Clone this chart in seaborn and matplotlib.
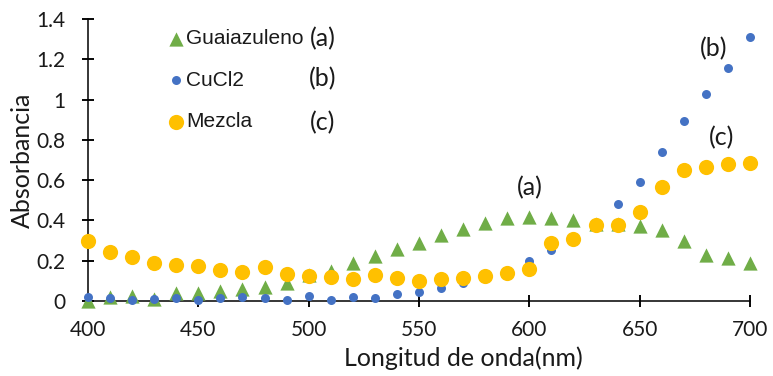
import matplotlib
matplotlib.use("Agg")
import matplotlib.pyplot as plt
import seaborn as sns
import pandas as pd

# Wavelengths (nm) and absorbance readings for each sample
wavelength = list(range(400, 701, 10))

guaiazuleno = [0.00, 0.02, 0.025, 0.01, 0.04, 0.04, 0.05, 0.058, 0.068, 0.09,
               0.13, 0.15, 0.187, 0.224, 0.257, 0.29, 0.33, 0.356, 0.386, 0.414,
               0.419, 0.41, 0.40, 0.38, 0.38, 0.373, 0.353, 0.30, 0.229, 0.212, 0.187]

cucl2 = [0.021, 0.013, 0.005, 0.008, 0.017, 0.005, 0.013, 0.018, 0.013, 0.005,
         0.025, 0.005, 0.018, 0.013, 0.033, 0.046, 0.063, 0.088, 0.12, 0.14,
         0.199, 0.253, 0.31, 0.38, 0.48, 0.593, 0.742, 0.895, 1.027, 1.157, 1.309]

mezcla = [0.30, 0.245, 0.22, 0.19, 0.18, 0.174, 0.154, 0.146, 0.17, 0.133,
          0.124, 0.118, 0.109, 0.128, 0.113, 0.101, 0.111, 0.116, 0.124, 0.141,
          0.157, 0.287, 0.31, 0.378, 0.378, 0.44, 0.568, 0.648, 0.667, 0.681, 0.684]

series_names = ["Guaiazuleno", "CuCl2", "Mezcla"]
series_tags = ["(a)", "(b)", "(c)"]
x_ticks = [400, 450, 500, 550, 600, 650, 700]
y_ticks = [0, 0.2, 0.4, 0.6, 0.8, 1.0, 1.2, 1.4]
y_tick_labels = ["0", "0.2", "0.4", "0.6", "0.8", "1", "1.2", "1.4"]

df = pd.DataFrame({
    "Longitud": wavelength * 3,
    "Absorbancia": guaiazuleno + cucl2 + mezcla,
    "Muestra": [series_names[0]] * len(wavelength)
               + [series_names[1]] * len(wavelength)
               + [series_names[2]] * len(wavelength),
})

sns.set_style("white", rc={"xtick.bottom": True, "ytick.left": True})
plt.rcParams["font.family"] = ["Lato", "DejaVu Sans"]

TEXT = "#1a1a1a"
TICK_LEN = 9
TICK_W = 1.1

fig = plt.figure(figsize=(7.73, 3.76), dpi=100)
ax = fig.add_axes([88 / 773, 1 - 301 / 376, 662 / 773, 282 / 376])

styles = {
    "Guaiazuleno": dict(color="#70AD47", marker="^", s=105),
    "CuCl2": dict(color="#4472C4", marker="o", s=42),
    "Mezcla": dict(color="#FFC000", marker="o", s=120),
}
for name in series_names:
    sub = df[df["Muestra"] == name]
    sns.scatterplot(data=sub, x="Longitud", y="Absorbancia", ax=ax,
                    label=name, linewidth=0, clip_on=False, zorder=3,
                    **styles[name])

ax.set_xlim(400, 700)
ax.set_ylim(0, 1.4)
ax.set_xticks(x_ticks)
ax.set_yticks(y_ticks)
ax.set_yticklabels(y_tick_labels)

for side in ("top", "right"):
    ax.spines[side].set_visible(False)
for side in ("left", "bottom"):
    ax.spines[side].set_color("black")
    ax.spines[side].set_linewidth(TICK_W)

ax.set_xlabel("Longitud de onda(nm)", fontsize=18, color=TEXT)
ax.set_ylabel("Absorbancia", fontsize=18, color=TEXT)
ax.xaxis.set_label_coords((463 - 88) / 662, (301 - 358) / 282)
ax.xaxis.label.set_va("center")
ax.yaxis.set_label_coords((22 - 88) / 662, 0.5)
ax.yaxis.label.set_va("center")

leg = ax.legend(loc="upper left", bbox_to_anchor=(157 / 773, 1 - 19 / 376),
                bbox_transform=fig.transFigure, frameon=False,
                handlelength=0.8, handletextpad=0.1, labelspacing=1.08,
                borderpad=0, prop={"family": "Liberation Sans", "size": 15})
for txt in leg.get_texts():
    txt.set_color(TEXT)

# Letter tags beside the legend entries
for tag, ypx in zip(series_tags, [39, 79, 123]):
    fig.text(323 / 773, 1 - ypx / 376, tag, ha="center", va="center",
             fontsize=18, color=TEXT)

# Letter tags next to each curve
ax.text(600, 0.565, "(a)", ha="center", va="center", fontsize=18, color=TEXT)
ax.text(683.5, 1.255, "(b)", ha="center", va="center", fontsize=18, color=TEXT)
ax.text(687, 0.81, "(c)", ha="center", va="center", fontsize=18, color=TEXT)

# Tick labels, plus crossing tick marks drawn as short segments across each axis
ax.tick_params(axis="both", which="major", bottom=True, left=True,
               direction="inout", length=TICK_LEN, width=TICK_W, color="black",
               labelsize=15, labelcolor=TEXT)
ax.tick_params(axis="y", pad=12)
ax.tick_params(axis="x", pad=9)
half_x = (TICK_LEN * 100 / 72 / 2) / 282
half_y = (TICK_LEN * 100 / 72 / 2) / 662
ax.vlines(x_ticks, -half_x, half_x, transform=ax.get_xaxis_transform(),
          colors="black", linewidth=TICK_W, clip_on=False, zorder=2.6)
ax.hlines(y_ticks, -half_y, half_y, transform=ax.get_yaxis_transform(),
          colors="black", linewidth=TICK_W, clip_on=False, zorder=2.6)

fig.savefig("out.png", dpi=100)
